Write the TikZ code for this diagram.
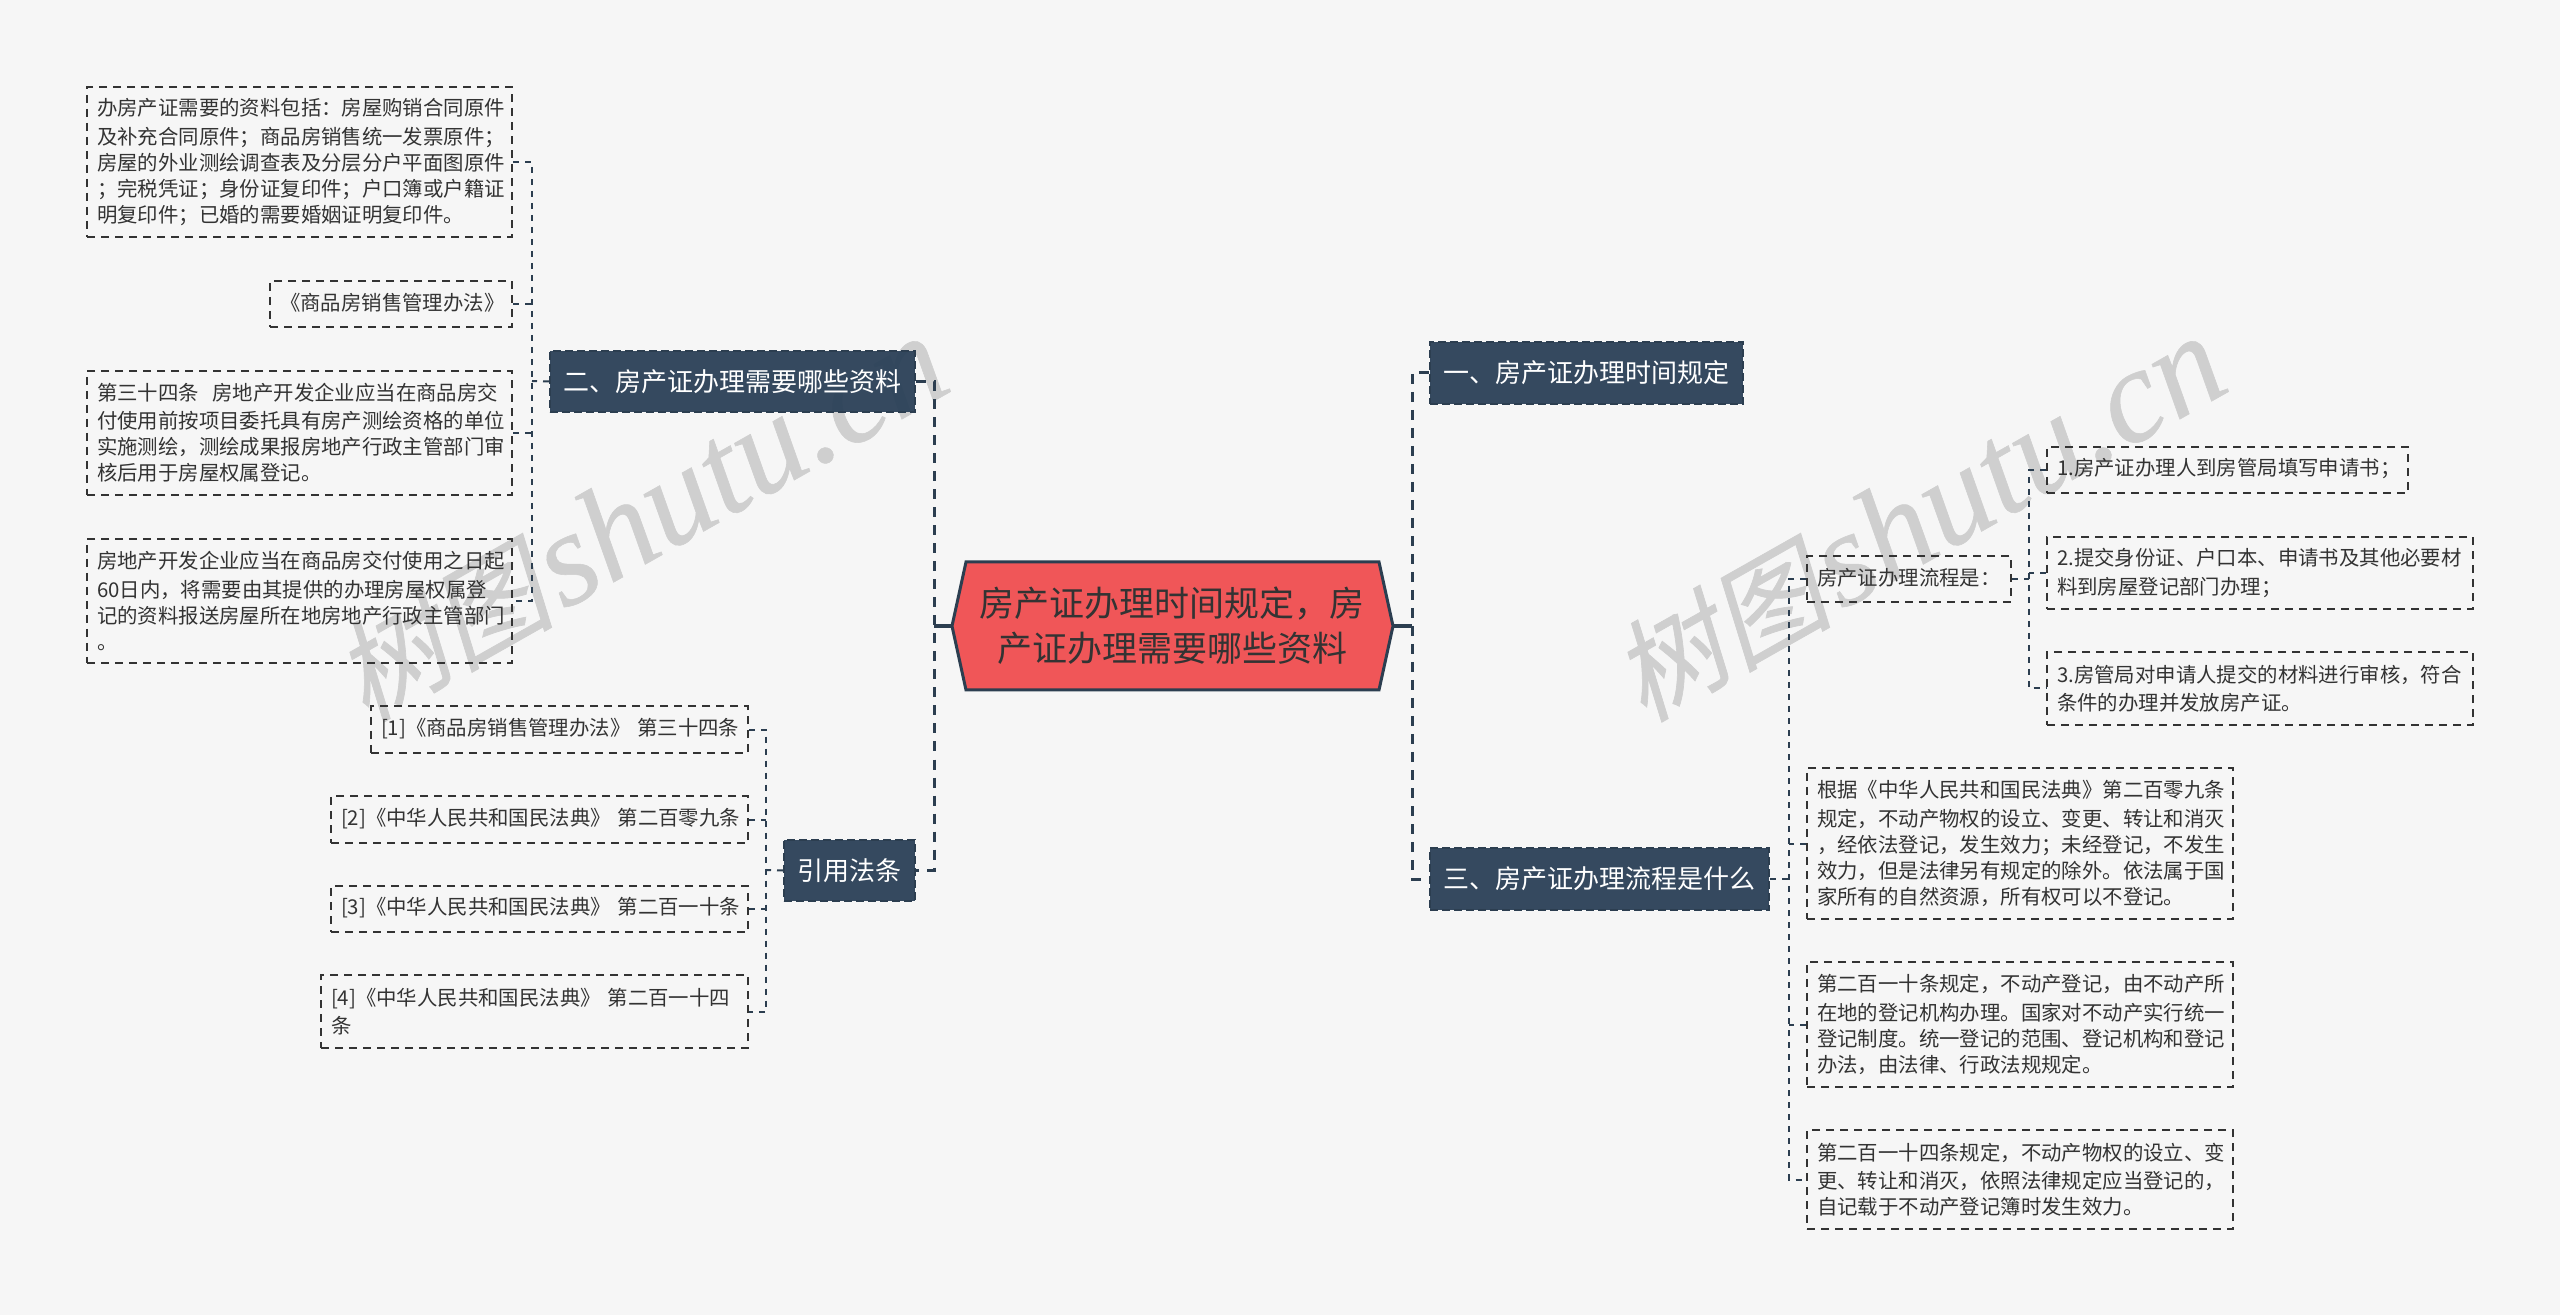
\documentclass[tikz,border=0pt]{standalone}
\usepackage{fontspec}
\setmainfont{Noto Sans CJK SC}
\newfontfamily\wmcjk[FakeSlant=0.22,FakeBold=0.6]{Noto Sans CJK SC}
\newfontfamily\wmlat{Liberation Serif}[ItalicFeatures={FakeBold=0.4}]
\definecolor{bgc}{HTML}{F6F6F6}
\definecolor{navy}{HTML}{293F56}
\definecolor{edge}{HTML}{2C3E50}
\definecolor{rootc}{HTML}{F05658}
\definecolor{ink}{HTML}{333333}
\definecolor{wm}{HTML}{CFCFCF}
\tikzset{
  x=0.5pt,y=-0.5pt,
  link/.style={draw=edge,line width=1pt,dash pattern=on 3pt off 3pt},
  thick link/.style={draw=edge,line width=1.5pt,dash pattern=on 5pt off 4pt},
  leafbox/.style={draw=ink,line width=1pt,dash pattern=on 4pt off 3pt,inner sep=0pt,align=left,text=ink,font=\fontsize{10.2}{13}\selectfont,execute at begin node={\vspace*{1.2pt}}},
  branch/.style={draw=edge,line width=1pt,dash pattern=on 4pt off 2pt,fill=navy,fill opacity=0.94,text opacity=1,inner sep=0pt,align=center,text=white,font=\fontsize{13}{16}\selectfont},
  watermark/.style={text=wm,inner sep=0pt,rotate=29.5,anchor=center},
}
% name, left, top, right, bottom, text
\newcommand{\leafnode}[6]{%
  \pgfmathsetmacro{\nw}{(#4-#2)*0.5}%
  \pgfmathsetmacro{\nh}{(#5-#3)*0.5}%
  \pgfmathsetmacro{\tw}{(#4-#2)*0.5-10}%
  \node[leafbox,minimum width=\nw pt,minimum height=\nh pt,text width=\tw pt] (#1) at ({(#2+#4)/2},{(#3+#5)/2}) {#6};}
\newcommand{\branchnode}[6]{%
  \pgfmathsetmacro{\nw}{(#4-#2)*0.5}%
  \pgfmathsetmacro{\nh}{(#5-#3)*0.5}%
  \node[branch,minimum width=\nw pt,minimum height=\nh pt] (#1) at ({(#2+#4)/2},{(#3+#5)/2}) {#6};}
\newcommand{\wmtext}{{\fontsize{55}{55}\selectfont\wmcjk 树图}\hspace{4pt}{\fontsize{67}{67}\selectfont\wmlat\itshape shutu.cn}}
\begin{document}
\begin{tikzpicture}
\useasboundingbox[fill=bgc] (0,0) rectangle (2560,1315);

% watermarks
\node[watermark] (w1) at (640,519) {\wmtext};
\node[watermark] (w2) at (1918,519) {\wmtext};

% centre hexagon
\coordinate (rw) at (952,626);
\coordinate (re) at (1393,626);
\path[fill=rootc,draw=edge,line width=1.5pt,line join=miter] (rw) -- (966,562) -- (1379,562) -- (re) -- (1379,690) -- (966,690) -- cycle;
\node[inner sep=0pt,align=center,text=ink,font=\fontsize{17.5}{22.4}\selectfont] (root) at (1172,626) {房产证办理时间规定，房\\产证办理需要哪些资料};

% branches
\branchnode{b2}{550}{351}{915}{412}{二、房产证办理需要哪些资料}
\branchnode{b4}{784}{840}{915}{901}{引用法条}
\branchnode{b1}{1430}{342}{1743}{404}{一、房产证办理时间规定}
\branchnode{b3}{1430}{848}{1769}{910}{三、房产证办理流程是什么}

% leaves
\leafnode{a1}{87}{87}{512}{237}{办房产证需要的资料包括：房屋购销合同原件\\及补充合同原件；商品房销售统一发票原件；\\房屋的外业测绘调查表及分层分户平面图原件\\；完税凭证；身份证复印件；户口簿或户籍证\\明复印件；已婚的需要婚姻证明复印件。}
\leafnode{a2}{270}{281}{512}{327}{《商品房销售管理办法》}
\leafnode{a3}{87}{371}{512}{495}{第三十四条\ \ 房地产开发企业应当在商品房交\\付使用前按项目委托具有房产测绘资格的单位\\实施测绘，测绘成果报房地产行政主管部门审\\核后用于房屋权属登记。}
\leafnode{a4}{87}{539}{512}{663}{房地产开发企业应当在商品房交付使用之日起\\60日内，将需要由其提供的办理房屋权属登\\记的资料报送房屋所在地房地产行政主管部门\\。}
\leafnode{c1}{371}{706}{748}{753}{[1]《商品房销售管理办法》~第三十四条}
\leafnode{c2}{331}{796}{748}{843}{[2]《中华人民共和国民法典》~第二百零九条}
\leafnode{c3}{331}{886}{748}{932}{[3]《中华人民共和国民法典》~第二百一十条}
\leafnode{c4}{321}{975}{748}{1048}{[4]《中华人民共和国民法典》~第二百一十四\\条}
\leafnode{p0}{1807}{556}{2011}{602}{房产证办理流程是：}
\leafnode{p1}{2047}{447}{2408}{493}{1.房产证办理人到房管局填写申请书；}
\leafnode{p2}{2047}{537}{2473}{609}{2.提交身份证、户口本、申请书及其他必要材\\料到房屋登记部门办理；}
\leafnode{p3}{2047}{652}{2473}{725}{3.房管局对申请人提交的材料进行审核，符合\\条件的办理并发放房产证。}
\leafnode{d1}{1807}{768}{2233}{919}{根据《中华人民共和国民法典》第二百零九条\\规定，不动产物权的设立、变更、转让和消灭\\，经依法登记，发生效力；未经登记，不发生\\效力，但是法律另有规定的除外。依法属于国\\家所有的自然资源，所有权可以不登记。}
\leafnode{d2}{1807}{962}{2233}{1087}{第二百一十条规定，不动产登记，由不动产所\\在地的登记机构办理。国家对不动产实行统一\\登记制度。统一登记的范围、登记机构和登记\\办法，由法律、行政法规规定。}
\leafnode{d3}{1807}{1130}{2233}{1229}{第二百一十四条规定，不动产物权的设立、变\\更、转让和消灭，依照法律规定应当登记的，\\自记载于不动产登记簿时发生效力。}

% junction columns
\coordinate (jl) at (934,626);
\coordinate (jr) at (1412,626);
\coordinate (j2) at (532,381);
\coordinate (j4) at (766,870);
\coordinate (j3) at (1789,879);
\coordinate (j0) at (2029,579);

% root to main columns
\draw[draw=edge,line width=2pt] (rw) -- (jl);
\draw[draw=edge,line width=2pt] (re) -- (jr);
\draw[thick link] (b2.east) -- (jl |- b2.east) -- (jl |- b4.east) -- (b4.east);
\draw[thick link] (b1.west) -- (jr |- b1.west) -- (jr |- b3.west) -- (b3.west);

% branch 二
\draw[link] (a1.east) -- (j2 |- a1.east) -- (j2 |- a4.east) -- (a4.east);
\draw[link] (a2.east) -- (j2 |- a2.east);
\draw[link] (a3.east) -- (j2 |- a3.east);
\draw[link] (b2.west) -- (j2);
% branch 引用法条
\draw[link] (c1.east) -- (j4 |- c1.east) -- (j4 |- c4.east) -- (c4.east);
\draw[link] (c2.east) -- (j4 |- c2.east);
\draw[link] (c3.east) -- (j4 |- c3.east);
\draw[link] (b4.west) -- (j4);
% branch 三
\draw[link] (p0.west) -- (j3 |- p0.west) -- (j3 |- d3.west) -- (d3.west);
\draw[link] (d1.west) -- (j3 |- d1.west);
\draw[link] (d2.west) -- (j3 |- d2.west);
\draw[link] (b3.east) -- (j3);
% sub branch
\draw[link] (p1.west) -- (j0 |- p1.west) -- (j0 |- p3.west) -- (p3.west);
\draw[link] (p2.west) -- (j0 |- p2.west);
\draw[link] (p0.east) -- (j0);
\end{tikzpicture}
\end{document}
